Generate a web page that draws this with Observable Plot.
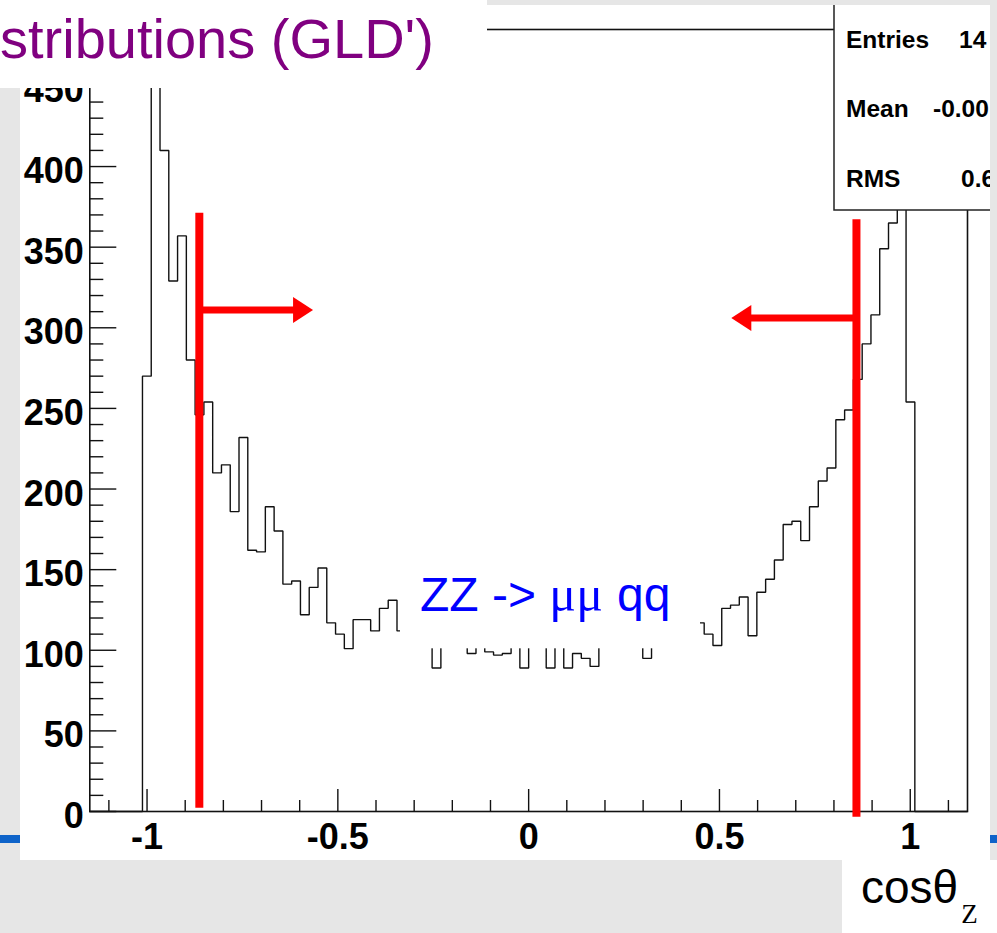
<!DOCTYPE html>
<html>
<head>
<meta charset="utf-8">
<script src="https://cdn.jsdelivr.net/npm/d3@7"></script>
<script src="https://cdn.jsdelivr.net/npm/@observablehq/plot@0.6"></script>
<style>
  body { margin: 0; }
  #slide { position: relative; width: 997px; height: 933px; overflow: hidden; background: #e6e6e6; }
  #band { position: absolute; left: 0; top: 835px; width: 997px; height: 8px; background: #0e63c9; }
  #sheet { position: absolute; left: 20px; top: 5px; width: 970px; height: 855px; background: #fff; }
  #chart { position: absolute; left: 0; top: 0; }
  #overlay { position: absolute; left: 0; top: 0; }
  text { white-space: pre; }
</style>
</head>
<body>
<div id="slide">
  <div id="band"></div>
  <div id="sheet"></div>
  <div id="chart"></div>
  <svg id="overlay" width="997" height="933" xmlns="http://www.w3.org/2000/svg">
    <defs>
      <clipPath id="sheetClip"><rect x="20" y="5" width="970" height="855"/></clipPath>
    </defs>
    <!-- statistics box, cut off at the right edge of the sheet -->
    <g clip-path="url(#sheetClip)" font-family="'Liberation Sans', Arial, sans-serif" font-weight="bold" font-size="24.5" fill="#000">
      <rect x="834" y="-2" width="200" height="212" fill="#fff" stroke="#222" stroke-width="1.5"/>
      <text x="846" y="48">Entries</text>
      <text x="959" y="48">14</text>
      <text x="846" y="117">Mean</text>
      <text x="933" y="117">-0.00</text>
      <text x="846" y="187">RMS</text>
      <text x="961" y="187">0.6</text>
    </g>
    <!-- process label on its own white box -->
    <rect x="400" y="560" width="300" height="88.3" fill="#fff"/>
    <text x="420" y="611" font-family="'Liberation Sans', Arial, sans-serif" font-size="48" fill="#0000ff">ZZ -&gt; <tspan font-family="'Liberation Serif', serif" font-size="50">μμ</tspan><tspan x="617">qq</tspan></text>
    <!-- slide title -->
    <rect x="0" y="0" width="487" height="88" fill="#fff"/>
    <text x="0" y="58" font-family="'Liberation Sans', Arial, sans-serif" font-size="56" fill="#800080">stributions (GLD')</text>
    <!-- axis title -->
    <rect x="842" y="860" width="155" height="73" fill="#fff"/>
    <text x="861" y="903" font-family="'Liberation Sans', Arial, sans-serif" font-size="46" fill="#000">cosθ<tspan dx="3" dy="20" font-family="'Liberation Serif', serif" font-size="27">Z</tspan></text>
  </svg>
</div>
<script>
// Histogram of cos(theta_Z): 100 bins of width 0.023 from -1.15 to 1.15
const histLow = -1.15;
const binWidth = 0.023;
const counts = [
  0, 0, 0, 0, 0, 0, 270, 462, 410, 329,
  357, 280, 246, 254, 210, 215, 186, 232, 162, 161,
  189, 174, 141, 143, 122, 139, 151, 117, 110, 101,
  119, 119, 112, 126, 131, 112, 108, 116, 105, 89,
  106, 103, 102, 98, 103, 99, 97, 98, 104, 89,
  105, 104, 89, 106, 89, 98, 95, 90, 103, 109,
  113, 107, 104, 95, 106, 111, 114, 109, 118, 117,
  110, 103, 126, 128, 133, 109, 136, 144, 156, 178,
  180, 168, 189, 205, 213, 243, 249, 268, 290, 308,
  349, 365, 440, 254, 0, 0, 0, 0, 0, 0
];

// Axis ticks and labels
const xMajor = [-1, -0.5, 0, 0.5, 1];
const xLabels = ["-1", "-0.5", "0", "0.5", "1"];
const xMinor = [-1.1, -0.9, -0.8, -0.7, -0.6, -0.4, -0.3, -0.2, -0.1, 0.1, 0.2, 0.3, 0.4, 0.6, 0.7, 0.8, 0.9, 1.1];
const yMajor = [0, 50, 100, 150, 200, 250, 300, 350, 400, 450];
const yLabels = ["0", "50", "100", "150", "200", "250", "300", "350", "400", "450"];
const yMinor = [10, 20, 30, 40, 60, 70, 80, 90, 110, 120, 130, 140, 160, 170, 180, 190,
  210, 220, 230, 240, 260, 270, 280, 290, 310, 320, 330, 340, 360, 370, 380, 390,
  410, 420, 430, 440, 460, 470, 480];

// Selection cuts drawn in red with arrows pointing to the accepted region
const cutX = [-0.863, 0.859];
const cutTop = [371, 367];
const cutBottom = [2, -3.5];
const arrowTip = [-0.565, 0.531];
const arrowLevel = [311, 306];

const W = 997, H = 933;
const margin = {top: 29, right: 30, bottom: 122, left: 89.3};
const xDomain = [-1.15, 1.15];
const yDomain = [0, 485];

// data units per pixel, used for the inward tick lengths
const ux = (xDomain[1] - xDomain[0]) / (W - margin.left - margin.right);
const uy = (yDomain[1] - yDomain[0]) / (H - margin.top - margin.bottom);

// step outline of the histogram
const outline = [];
counts.forEach((c, i) => {
  outline.push({x: histLow + i * binWidth, y: c});
  outline.push({x: histLow + (i + 1) * binWidth, y: c});
});

const cuts = cutX.map((x, i) => ({x, top: cutTop[i], bottom: cutBottom[i], tip: arrowTip[i], level: arrowLevel[i]}));

// arrowheads with the tip at the anchor point; r sets half the base
const headRight = {draw(ctx, size) { const s = Math.sqrt(size / Math.PI), L = s * 20 / 13; ctx.moveTo(0, 0); ctx.lineTo(-L, -s); ctx.lineTo(-L, s); ctx.closePath(); }};
const headLeft = {draw(ctx, size) { const s = Math.sqrt(size / Math.PI), L = s * 20 / 13; ctx.moveTo(0, 0); ctx.lineTo(L, -s); ctx.lineTo(L, s); ctx.closePath(); }};

const font = "'Liberation Sans', Arial, Helvetica, sans-serif";

const chart = Plot.plot({
  width: W,
  height: H,
  marginTop: margin.top,
  marginRight: margin.right,
  marginBottom: margin.bottom,
  marginLeft: margin.left,
  style: {background: "transparent", fontFamily: font, overflow: "visible"},
  x: {domain: xDomain, axis: null},
  y: {domain: yDomain, axis: null},
  marks: [
    Plot.line(outline, {x: "x", y: "y", stroke: "#111", strokeWidth: 1.4, strokeLinejoin: "miter", strokeLinecap: "butt"}),
    Plot.ruleY(yMinor, {y: d => d, x1: xDomain[0], x2: xDomain[0] + 14 * ux, stroke: "#111", strokeWidth: 1.4}),
    Plot.ruleY(yMajor, {y: d => d, x1: xDomain[0], x2: xDomain[0] + 27 * ux, stroke: "#111", strokeWidth: 1.4}),
    Plot.ruleX(xMinor, {x: d => d, y1: 0, y2: 11 * uy, stroke: "#111", strokeWidth: 1.4}),
    Plot.ruleX(xMajor, {x: d => d, y1: 0, y2: 22 * uy, stroke: "#111", strokeWidth: 1.4}),
    Plot.frame({stroke: "#111", strokeWidth: 1.6}),
    Plot.text(yMajor, {x: xDomain[0], y: d => d, text: (d, i) => yLabels[i], textAnchor: "end", dx: -6, dy: 5, fontSize: 36, fontWeight: "bold", fill: "#000"}),
    Plot.text(xMajor, {x: d => d, y: 0, text: (d, i) => xLabels[i], dy: 25.5, fontSize: 36, fontWeight: "bold", fill: "#000"}),
    Plot.ruleX(cuts, {x: "x", y1: "bottom", y2: "top", stroke: "#ff0000", strokeWidth: 8}),
    Plot.ruleY(cuts, {y: "level", x1: "x", x2: d => d.tip - Math.sign(d.tip - d.x) * 0.03, stroke: "#ff0000", strokeWidth: 7}),
    Plot.dot(cuts.filter(d => d.tip > d.x), {x: "tip", y: "level", r: 13, symbol: headRight, fill: "#ff0000"}),
    Plot.dot(cuts.filter(d => d.tip < d.x), {x: "tip", y: "level", r: 13, symbol: headLeft, fill: "#ff0000"})
  ]
});

document.getElementById("chart").appendChild(chart);
</script>
</body>
</html>
